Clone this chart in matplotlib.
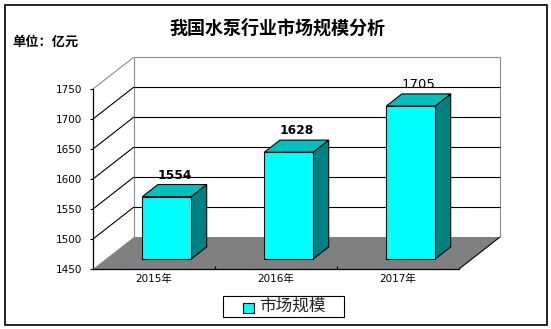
import matplotlib
matplotlib.use("Agg")
import matplotlib.pyplot as plt
from matplotlib.patches import Polygon, Rectangle

plt.rcParams["font.family"] = ["DejaVu Sans", "Noto Sans CJK SC"]

# data
categories = ["2015年", "2016年", "2017年"]
values = [1554, 1628, 1705]
yticks = [1450, 1500, 1550, 1600, 1650, 1700, 1750]
title = "我国水泵行业市场规模分析"
unit_label = "单位：亿元"
series_name = "市场规模"

FRONT = "#00FFFF"
TOP = "#00BFBF"
SIDE = "#008080"
FLOOR = "#808080"
WALL_EDGE = "#8c8c8c"

W, H = 551, 329
fig = plt.figure(figsize=(W / 100, H / 100), dpi=100)
ax = fig.add_axes([93 / W, 60 / H, 366 / W, 180 / H])
ax.set_xlim(0, 3)
ax.set_ylim(1450, 1750)
ax.patch.set_visible(False)

# 3d depth offset in data units (category units, value units)
DX = 41 / 122
DY = 32 / 0.6
ymin, ymax = yticks[0], yticks[-1]
n = len(categories)

# walls and floor
ax.add_patch(Polygon([(0, ymin), (DX, ymin + DY), (DX, ymax + DY), (0, ymax)],
                     closed=True, fc="white", ec="none", zorder=0, clip_on=False))
ax.add_patch(Rectangle((DX, ymin + DY), n, ymax - ymin, fc="white", ec="none",
                       zorder=0, clip_on=False))
ax.add_patch(Polygon([(0, ymin), (n, ymin), (n + DX, ymin + DY), (DX, ymin + DY)],
                     closed=True, fc=FLOOR, ec="none", zorder=1, clip_on=False))
kw = dict(clip_on=False, lw=0.8, solid_capstyle="butt")
ax.plot([DX, DX], [ymin + DY, ymax + DY], color=WALL_EDGE, zorder=1, **kw)
ax.plot([n + DX, n + DX], [ymin + DY, ymax + DY], color=WALL_EDGE, zorder=1, **kw)
ax.plot([DX, n + DX], [ymax + DY, ymax + DY], color=WALL_EDGE, zorder=1, **kw)
ax.plot([0, DX], [ymax, ymax + DY], color=WALL_EDGE, zorder=1, **kw)
ax.plot([n, n + DX], [ymin, ymin + DY], color="black", zorder=2, **kw)

for v in yticks[1:-1]:
    ax.plot([DX, n + DX], [v + DY, v + DY], color="black", zorder=2, **kw)
    ax.plot([0, DX], [v, v + DY], color="black", zorder=2, **kw)

# bars
hw = 0.2
d0, d1 = 0.31, 0.69
for i, v in enumerate(values):
    c = i + 0.5
    xl, xr = c - hw, c + hw
    side = [(xr + d0 * DX, ymin + d0 * DY), (xr + d1 * DX, ymin + d1 * DY),
            (xr + d1 * DX, v + d1 * DY), (xr + d0 * DX, v + d0 * DY)]
    top = [(xl + d0 * DX, v + d0 * DY), (xr + d0 * DX, v + d0 * DY),
           (xr + d1 * DX, v + d1 * DY), (xl + d1 * DX, v + d1 * DY)]
    ax.add_patch(Polygon(side, closed=True, fc=SIDE, ec="black", lw=0.8, zorder=3,
                         clip_on=False))
    ax.add_patch(Polygon(top, closed=True, fc=TOP, ec="black", lw=0.8, zorder=3,
                         clip_on=False))
    ax.add_patch(Rectangle((xl + d0 * DX, ymin + d0 * DY), 2 * hw, v - ymin,
                           fc=FRONT, ec="black", lw=0.8, zorder=4, clip_on=False))
    bold = i < 2
    ax.annotate(f"{v}", xy=(c + (d0 + d1) / 2 * DX, v + d1 * DY),
                xytext=(0, 3), textcoords="offset pixels", ha="center", va="bottom",
                fontsize=8.8 if bold else 9.5,
                fontweight="bold" if bold else "normal",
                annotation_clip=False, zorder=5)

# axes
for s in ("top", "right"):
    ax.spines[s].set_visible(False)
for s in ("left", "bottom"):
    ax.spines[s].set_linewidth(0.9)
    ax.spines[s].set_zorder(2.5)
ax.set_yticks(yticks)
ax.tick_params(axis="y", direction="out", length=2.2, width=0.8, pad=5.5,
               labelsize=7.5, colors="black")
ax.set_xticks([i + 0.5 for i in range(n)], labels=categories)
ax.tick_params(axis="x", which="major", length=0, pad=3.5, labelsize=7.5)
ax.set_xticks(range(1, n), minor=True)
ax.tick_params(axis="x", which="minor", direction="in", length=2.2, width=0.8)

# titles
fig.text(277 / W, 1 - 28 / H, title, ha="center", va="center", fontsize=13,
         fontweight="bold", family="Noto Sans CJK SC")
fig.text(12 / W, 1 - 42 / H, unit_label, ha="left", va="center", fontsize=9.5,
         fontweight="bold", family="Noto Sans CJK SC")

# legend box
fig.patches.append(Rectangle((223 / W, 1 - 317 / H), 121 / W, 21 / H, fill=False,
                             ec="black", lw=0.8, transform=fig.transFigure))
fig.patches.append(Rectangle((243 / W, 1 - 313 / H), 11 / W, 10 / H, fc=FRONT,
                             ec="black", lw=0.8, transform=fig.transFigure))
fig.text(259 / W, 1 - 306.5 / H, series_name, ha="left", va="center", fontsize=12,
         color="#222222", family="Noto Sans CJK SC")

# outer frame
fig.patches.append(Rectangle((5 / W, 4 / H), 542 / W, 320 / H, fill=False,
                             ec="black", lw=1.2, transform=fig.transFigure))

fig.savefig("out.png", dpi=100)
